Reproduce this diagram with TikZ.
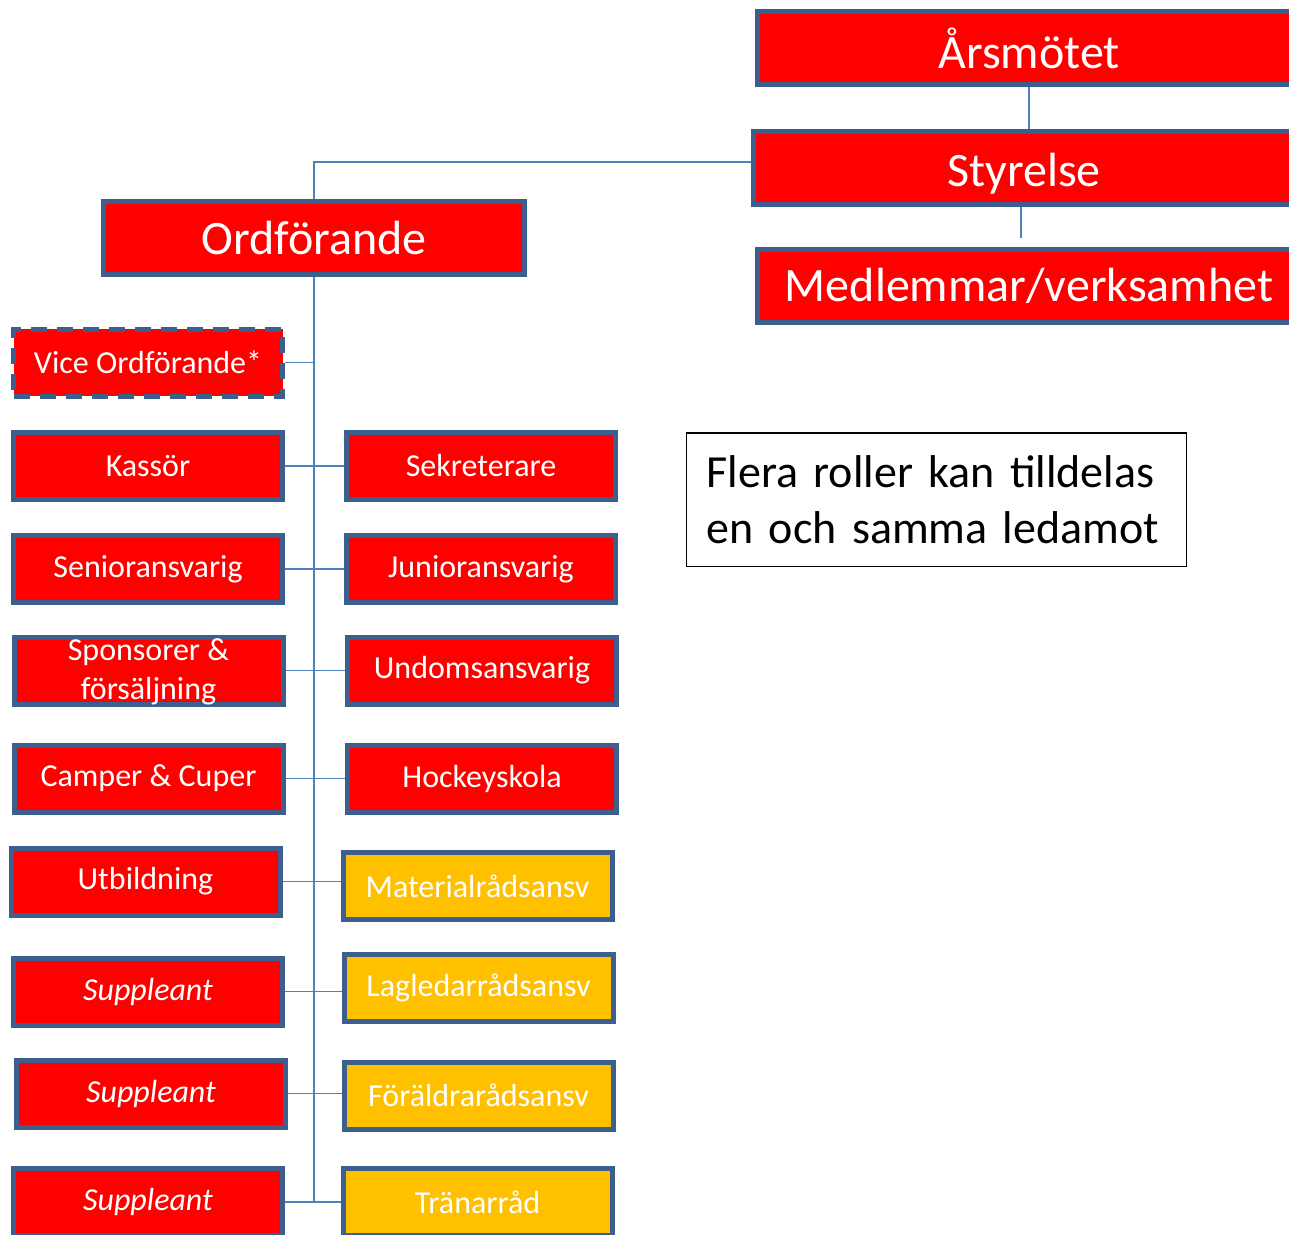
\documentclass[tikz,border=0pt]{standalone}
\usepackage{fontspec}
\setmainfont{Carlito}
\usetikzlibrary{calc,backgrounds}
\definecolor{boxred}{HTML}{FF0000}
\definecolor{boxyel}{HTML}{FFC000}
\definecolor{boxline}{HTML}{3C5F8D}
\definecolor{conn}{HTML}{4F81BD}
\begin{document}
\begin{tikzpicture}[x=1pt,y=-1pt,
  role/.style={rectangle, draw=boxline, line width=5pt, fill=boxred, text=white,
    minimum width=269pt, minimum height=67pt, inner sep=0pt,
    font=\fontsize{32}{39.5}\selectfont},
  ital/.style={role, font=\fontsize{32}{39.5}\selectfont\itshape},
  big/.style={role, minimum height=73pt, font=\fontsize{48}{58}\selectfont},
  yel/.style={role, fill=boxyel},
  link/.style={draw=conn, line width=1.8pt}]
\useasboundingbox (0,0) rectangle (1289,1234);
\clip (0,0) rectangle (1289,1234);

% top boxes
\node[big, minimum width=543pt] (ars) at (1029,48) {Årsmötet};
\node[big, minimum width=541pt, text depth=0pt] (sty) at (1024,168) {\raisebox{-3pt}{Styrelse}};
\node[big, minimum width=543pt] (med) at (1029,286) {Medlemmar/verksamhet};
\node[big, minimum width=421pt] (ord) at (314,238) {Ordförande};

% left column
\node[role, dashed, dash pattern=on 16pt off 10pt] (vice) at (148,362.5) {Vice Ordförande*};
\node[role] (kas) at (148,466) {Kassör};
\node[role] (sen) at (148,569) {Senioransvarig};
\node[role] (spo) at (148.5,670.5)
  {\raisebox{-16pt}{\smash{\begin{tabular}{@{}c@{}}Sponsorer \&\\försäljning\end{tabular}}}};
\node[role] (cam) at (148.5,778.5) {Camper \& Cuper};
\node[role] (utb) at (145.5,881.5) {Utbildning};
\node[ital] (su1) at (148,991.5) {Suppleant};
\node[ital] (su2) at (151,1093.5) {Suppleant};
\node[ital] (su3) at (148,1202) {Suppleant};

% right column
\node[role] (sek) at (481,466) {Sekreterare};
\node[role] (jun) at (481,569) {Junioransvarig};
\node[role] (ung) at (482,670.5) {Undomsansvarig};
\node[role] (hoc) at (482,778.5) {Hockeyskola};
\node[yel] (mat) at (477.5,886) {Materialrådsansv};
\node[yel] (lag) at (478.5,987.5) {Lagledarrådsansv};
\node[yel] (for) at (478.5,1095.5) {Föräldrarådsansv};
\node[yel] (tra) at (477.5,1202) {Tränarråd};

% note
\node[draw=black, line width=1.5pt, text width=460pt, inner xsep=20pt, inner ysep=0pt,
  minimum height=133.5pt, align=left, font=\fontsize{46}{56}\selectfont] (note) at (936.5,499.5)
  {Flera roller kan tilldelas\\en och samma ledamot};

\begin{scope}[on background layer]
  \draw[link] (ars.south) -- (ars.south |- sty.north);
  \draw[link, shorten >=9pt] ([xshift=-3pt]sty.south) -- ([xshift=-3pt]sty.south |- med.north);
  \draw[link] (ord.north) |- ([yshift=6pt]sty.west);
  \draw[link] (ord.south) -- (ord.south |- su3.east);
  \draw[link] (vice.east) -- (vice.east -| ord.south);
  \draw[link] (kas.east) -- (kas.east -| sek.west);
  \draw[link] (sen.east) -- (sen.east -| jun.west);
  \draw[link] (spo.east) -- (spo.east -| ung.west);
  \draw[link] (cam.east) -- (cam.east -| hoc.west);
  \draw[link] (utb.east) -- (utb.east -| mat.west);
  \draw[link] (su1.east) -- (su1.east -| lag.west);
  \draw[link] (su2.east) -- (su2.east -| for.west);
  \draw[link] (su3.east) -- (su3.east -| tra.west);
\end{scope}
\end{tikzpicture}
\end{document}
